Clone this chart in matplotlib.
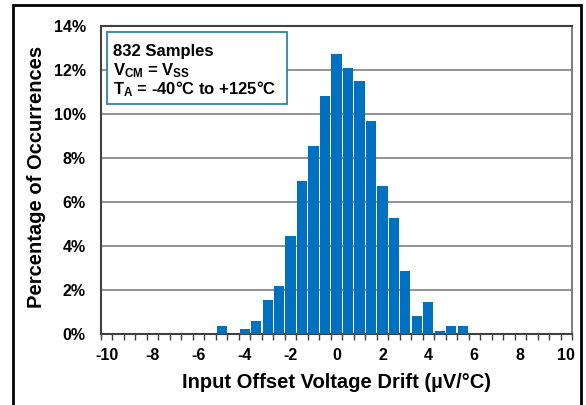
import matplotlib
matplotlib.use('Agg')
import matplotlib.pyplot as plt
from matplotlib.patches import Rectangle
import numpy as np

# Histogram data (bin centers in uV/C, percentage of 832 samples)
bin_centers = [-5.0, -4.0, -3.5, -3.0, -2.5, -2.0, -1.5, -1.0, -0.5, 0.0,
               0.5, 1.0, 1.5, 2.0, 2.5, 3.0, 3.5, 4.0, 4.5, 5.0, 5.5]
percentages = [0.36, 0.24, 0.60, 1.56, 2.16, 4.45, 6.97, 8.53, 10.82, 12.74,
               12.08, 11.48, 9.70, 6.73, 5.29, 2.88, 0.84, 1.44, 0.12, 0.36, 0.36]
x_ticks = [-10, -8, -6, -4, -2, 0, 2, 4, 6, 8, 10]
y_ticks = [0, 2, 4, 6, 8, 10, 12, 14]
box_lines = ['832 Samples',
             r'V$_\mathrm{CM}$ = V$_\mathrm{SS}$',
             r'T$_\mathrm{A}$ = -40°C to +125°C']

plt.rcParams['font.family'] = ['Liberation Sans', 'DejaVu Sans']
plt.rcParams['font.weight'] = 'bold'
plt.rcParams['axes.unicode_minus'] = False
plt.rcParams['mathtext.fontset'] = 'custom'
plt.rcParams['mathtext.rm'] = 'Liberation Sans:bold'
plt.rcParams['mathtext.it'] = 'Liberation Sans:bold'
plt.rcParams['mathtext.bf'] = 'Liberation Sans:bold'

fig = plt.figure(figsize=(5.86, 4.05), dpi=100)
ax = fig.add_axes([101/586, 1-334/405, 471/586, 308/405])

ax.bar(bin_centers, percentages, width=0.44, color='#0070C0', zorder=3)

ax.set_xlim(-10.25, 10.25)
ax.set_ylim(0, 14)
ax.set_xticks(x_ticks)
ax.set_xticklabels([str(v) for v in x_ticks])
ax.set_xticks(np.arange(-10.25, 10.3, 0.5), minor=True)
ax.set_yticks(y_ticks)
ax.set_yticklabels(['%d%%' % v for v in y_ticks])
ax.tick_params(axis='x', which='major', length=0, pad=10, labelsize=11.5)
ax.tick_params(axis='x', which='minor', length=4, width=1, color='#404040', direction='out')
ax.tick_params(axis='y', length=0, pad=11, labelsize=11.5)
ax.yaxis.grid(True, color='#808080', lw=1.2, zorder=0)

for side in ['left', 'bottom', 'top']:
    ax.spines[side].set_color('#404040')
    ax.spines[side].set_linewidth(1.5)
ax.spines['right'].set_color('#808080')
ax.spines['right'].set_linewidth(1.5)

ax.set_xlabel('Input Offset Voltage Drift (µV/°C)', fontsize=14.5, fontweight='bold')
ax.set_ylabel('Percentage of Occurrences', fontsize=14.5, fontweight='bold')
ax.xaxis.set_label_coords(0.5, -0.125)
ax.yaxis.set_label_coords(-0.117, 0.51)

# annotation box
ax.add_patch(Rectangle((0.0127, 0.7468), 0.382, 0.2337, transform=ax.transAxes,
                       facecolor='white', edgecolor='#31859C', lw=1.3, zorder=5))
for txt, yy in zip(box_lines, [0.9026, 0.841, 0.779]):
    ax.text(0.0255, yy, txt, transform=ax.transAxes, fontsize=12, fontweight='bold',
            va='baseline', ha='left', zorder=6)

# outer frame
fig.add_artist(Rectangle((12.5/586, -0.05), 568/586, 1.05 - 5.5/405,
                         transform=fig.transFigure, fill=False, edgecolor='black', lw=2))

fig.savefig('out.png', dpi=100)
